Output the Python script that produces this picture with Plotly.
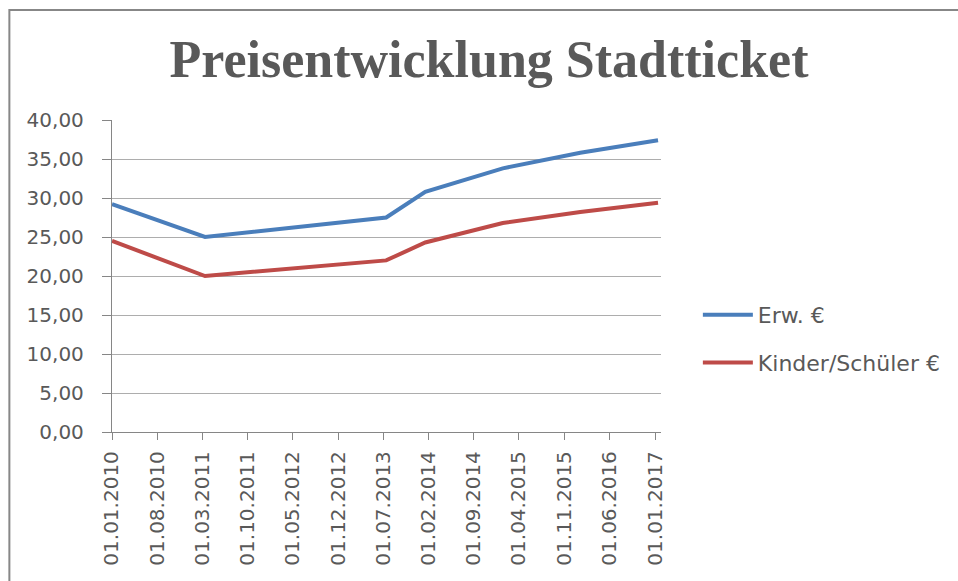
import plotly.graph_objects as go

# --- data ---
dates = ["2010-01-01", "2011-03-15", "2013-07-15", "2014-01-15",
         "2015-01-15", "2016-01-15", "2017-01-15"]
erw = [29.2, 25.0, 27.5, 30.8, 33.8, 35.8, 37.4]
kinder = [24.5, 20.0, 22.0, 24.3, 26.8, 28.2, 29.4]
series_names = ["Erw. €", "Kinder/Schüler €"]
title_text = "Preisentwicklung Stadtticket"

W, H = 958, 581
L, R, T, B = 112, 958 - 663, 120, 581 - 432
pw, ph = W - L - R, H - T - B

def px_x(p):
    return (p - L) / pw

def px_y(p):
    return (H - B - p) / ph

fig = go.Figure()
fig.add_trace(go.Scatter(x=dates, y=erw, mode="lines", name=series_names[0],
                         line=dict(color="#4A7EBB", width=4), legendgroup="a"))
fig.add_trace(go.Scatter(x=dates, y=kinder, mode="lines", name=series_names[1],
                         line=dict(color="#BE4B48", width=4), legendgroup="b"))

fig.update_layout(
    width=W, height=H,
    margin=dict(l=L, r=R, t=T, b=B),
    paper_bgcolor="white", plot_bgcolor="white",
    separators=",.",
    font=dict(family="DejaVu Sans", size=20, color="#595959"),
    title=dict(text=title_text, x=489 / W, xanchor="center", xref="container",
               y=1 - 59 / H, yanchor="middle", yref="container",
               font=dict(family="Liberation Serif", size=52, color="#595959", weight="bold")),
    xaxis=dict(type="date", range=["2010-01-01", "2017-01-29"],
               tick0="2010-01-01", dtick="M7", tickformat="%d.%m.%Y",
               tickangle=-90, ticks="outside", ticklen=7, tickcolor="#868686",
               showline=True, linecolor="#868686", linewidth=1.3,
               showgrid=False, zeroline=False, ticklabelstandoff=3,
               tickfont=dict(size=20, color="#595959")),
    yaxis=dict(range=[0, 40], dtick=5, tickformat=".2f",
               ticks="outside", ticklen=9, tickcolor="#868686",
               showline=True, linecolor="#868686", linewidth=1.3,
               showgrid=True, gridcolor="#ADADAD", gridwidth=1.3,
               zeroline=False, ticklabelstandoff=14,
               tickfont=dict(size=20, color="#595959")),
    legend=dict(x=px_x(700), xanchor="left", y=px_y(294), yanchor="top",
                font=dict(size=22, color="#595959"), tracegroupgap=16,
                bgcolor="rgba(0,0,0,0)", itemwidth=50),
    shapes=[dict(type="rect", xref="paper", yref="paper",
                 x0=px_x(9), x1=px_x(1000), y0=px_y(620), y1=px_y(10),
                 line=dict(color="#878787", width=2), fillcolor="rgba(0,0,0,0)",
                 layer="below")],
)

fig.write_html("out.html", config={"displayModeBar": False},
               post_script="document.body.style.margin='0';document.body.style.overflow='hidden';")
